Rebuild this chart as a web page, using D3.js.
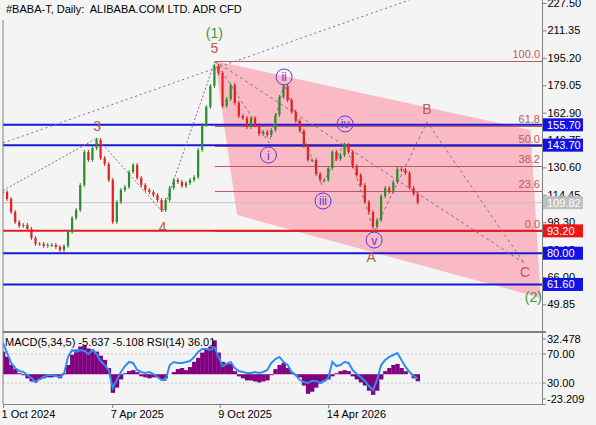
<!DOCTYPE html>
<html><head><meta charset="utf-8">
<script src="https://cdn.jsdelivr.net/npm/d3@7"></script>
<style>
body{margin:0;background:#f4f4f4;}
svg{display:block;font-family:"Liberation Sans",Arial,sans-serif;}
</style>
</head><body>
<svg id="c" width="596" height="425"></svg>
<script>
// ---------------- DATA ----------------
const title = "#BABA-T, Daily:  ALIBABA.COM LTD. ADR CFD";
const firstDate = "2024-10-01";
const lastAxisDate = "2027-04-17";
const stepDays = 7;
const closes = [116.1,112.0,104.3,98.4,96.1,96.7,94.3,89.0,85.5,85.5,84.3,84.9,84.9,83.7,81.9,84.3,92.5,100.8,105.5,120.2,
  139.7,135.0,142.0,146.8,136.1,132.6,123.2,98.4,110.2,117.3,119.1,127.9,132.0,124.4,120.2,117.3,116.1,114.3,111.4,105.5,
  111.4,118.5,123.2,122.0,119.6,121.4,123.2,124.9,140.9,155.6,166.2,178.6,190.4,186.2,166.8,170.9,179.2,168.6,160.9,159.7,
  154.4,159.7,155.6,150.3,151.5,149.7,152.6,161.5,172.1,178.6,170.3,163.3,158.0,152.1,143.2,135.0,135.0,126.7,123.2,123.2,
  130.2,139.7,135.6,137.9,143.8,139.7,131.4,126.1,120.2,110.2,104.3,95.5,99.6,113.7,118.5,116.1,122.0,129.7,129.1,127.3,
  118.5,114.9,109.82];
const macdValues = [18.3,14.1,7.5,4.2,0.8,-0.8,-3.3,-5.8,-6.6,-4.2,-3.3,-2.5,-2.5,-1.7,-3.3,0.8,7.5,15.8,19.9,22.4,
  23.3,20.8,19.9,18.3,15.0,11.6,5.0,-15.0,-10.8,-4.2,0.8,2.5,3.3,1.7,-1.7,-2.5,-3.3,-2.5,-2.5,-4.2,
  -3.3,0.0,1.7,4.2,5.0,3.3,5.8,10.0,13.3,17.5,19.9,22.4,27.4,17.5,10.0,9.1,8.3,2.5,-1.7,-3.3,
  -5.0,-5.0,-5.8,-6.6,-5.8,-5.0,-0.8,4.2,7.5,9.1,5.0,1.7,-0.8,-2.5,-9.1,-15.8,-14.1,-10.8,-7.5,-5.8,
  -4.2,-1.7,0.8,2.5,3.3,2.5,-1.7,-4.2,-6.6,-9.1,-13.3,-16.6,-13.3,-4.2,2.5,5.0,7.5,8.3,5.0,2.5,
  0.0,-3.3,-5.637];
const rsiValues = [85.2,71.4,57.6,50.7,46.6,45.2,41.0,36.9,31.4,35.5,38.3,41.0,41.0,39.7,38.3,42.4,65.9,75.5,72.8,75.5,
  74.1,70.0,75.5,70.0,60.3,54.8,47.9,23.1,34.1,45.2,53.4,59.0,57.6,47.9,45.2,43.8,45.2,42.4,38.3,34.1,
  34.1,54.8,59.0,57.6,57.6,59.0,60.3,65.9,72.8,76.9,76.9,75.5,79.7,65.9,53.4,56.2,59.0,50.7,46.6,45.2,
  43.8,43.8,45.2,43.8,45.2,47.9,57.6,63.1,65.9,59.0,54.8,45.2,41.0,34.1,31.4,30.0,32.8,32.8,30.0,32.8,
  36.9,59.0,53.4,54.8,59.0,57.6,47.9,42.4,38.3,32.8,25.9,20.3,34.1,54.8,61.7,65.9,68.6,71.4,61.7,52.1,
  45.2,39.7,36.01];
const priceTicks = [227.50,211.35,195.20,179.05,162.90,146.75,130.60,114.45,98.30,82.15,66.00,49.85];
const dateTicks = ["2024-10-01","2025-04-07","2025-10-09","2026-04-14"];
const levelValues = [155.70,143.70,93.20,80.00,61.60];
const levelKinds  = ["resist","resist","pivot","support","support"];
const lastPrice = 109.82;
const fibAnchorDate = "2025-10-01";
const fibLow = 93.2, fibHigh = 193.3;
const fibLevels = [0,23.6,38.2,50.0,61.8,100.0];
const macdLabel = "MACD(5,34,5) -5.637 -5.108 RSI(14) 36.01";
const macdMax = 32.478, macdMin = -23.209;
const rsiLevels = [70,30];
// Channel (date, price)
const channelDates  = ["2025-10-01","2027-03-28","2027-04-15","2025-11-08"];
const channelPrices = [193.3,152.6,53.6,102.5];
// Wave paths
const impulseDates  = ["2024-10-01","2025-03-12","2025-07-03","2025-10-01"];
const impulsePrices = [117.0,147.9,104.3,193.3];
const subDates  = ["2025-10-01","2026-01-02","2026-01-28","2026-04-03","2026-05-13","2026-07-02"];
const subPrices = [193.3,145.0,179.8,120.2,145.6,93.1];
const corrDates  = ["2026-07-02","2026-10-01","2027-03-17"];
const corrPrices = [93.1,157.4,74.3];
const trendDates = ["2025-10-01","2027-03-17"];
const trendPrices = [193.3,74.3];
const purpleDates = ["2024-10-01","2026-09-01"];
const purplePrices = [145.0,229.3];
// Labels
const waveLabels = ["(1)","5","3","4","A","B","C","(2)"];
const waveLabelKinds = ["major","minor","minor","minor","minor","minor","minor","major"];
const waveLabelDates = ["2025-09-30","2025-09-30","2025-03-12","2025-07-03","2026-06-27","2026-10-01","2027-03-19","2027-04-02"];
const waveLabelPrices = [209.8,201.0,155.0,95.5,77.8,165.0,69.0,54.2];
const circLabels = ["i","ii","iii","iv","v"];
const circDates = ["2026-01-01","2026-01-28","2026-04-05","2026-05-13","2026-07-02"];
const circPrices = [137.9,183.9,110.8,156.2,87.8];

// ---------------- DRAW ----------------
const parse = d3.timeParse("%Y-%m-%d");
const svg = d3.select("#c");
const W = 596;
const left = 3, right = 542, mainTop = 0, mainBottom = 331, subTop = 333, subBottom = 404;

const x = d3.scaleTime().domain([parse(firstDate), parse(lastAxisDate)]).range([left, right]);
const y = d3.scaleLinear().domain([49.85, 227.5]).range([304.4, 3]);
const yM = d3.scaleLinear().domain([macdMin, macdMax]).range([403, 334]);
const yR = d3.scaleLinear().domain([0, 100]).range([404.75, 332.25]);

const start = parse(firstDate);
const dates = closes.map((c, i) => d3.timeDay.offset(start, i * stepDays));
const step = x(dates[1]) - x(dates[0]);

svg.append("rect").attr("width", W).attr("height", 425).attr("fill", "#f4f4f4");

const defs = svg.append("defs");
defs.append("clipPath").attr("id", "mainClip").append("rect")
  .attr("x", left).attr("y", mainTop).attr("width", right - left).attr("height", mainBottom - mainTop);
defs.append("clipPath").attr("id", "subClip").append("rect")
  .attr("x", left).attr("y", subTop).attr("width", right - left).attr("height", subBottom - subTop);

const main = svg.append("g").attr("clip-path", "url(#mainClip)");

// pink channel
main.append("path")
  .attr("d", d3.line()(channelDates.map((d, i) => [x(parse(d)), y(channelPrices[i])])) + "Z")
  .attr("fill", "#f9b9c5");

// last price grey line
main.append("line").attr("x1", left).attr("x2", right)
  .attr("y1", y(lastPrice)).attr("y2", y(lastPrice))
  .attr("stroke", "#c4c4c4").attr("stroke-width", 1);

// fib lines
const fibColor = "#bf5a5a";
fibLevels.forEach(p => {
  const v = fibLow + (fibHigh - fibLow) * p / 100;
  main.append("line").attr("x1", x(parse(fibAnchorDate))).attr("x2", right)
    .attr("y1", Math.round(y(v)) + 0.5).attr("y2", Math.round(y(v)) + 0.5)
    .attr("stroke", fibColor).attr("stroke-width", 1);
  main.append("text").attr("x", right - 2).attr("y", y(v) - 3)
    .attr("text-anchor", "end").attr("font-size", 11).attr("fill", fibColor)
    .text(p.toFixed(1));
});

// horizontal levels
const levelColor = {resist: "#1a1ad6", support: "#1a1ad6", pivot: "#e01c1c"};
levelValues.forEach((v, i) => {
  main.append("line").attr("x1", left).attr("x2", right)
    .attr("y1", y(v)).attr("y2", y(v))
    .attr("stroke", levelColor[levelKinds[i]]).attr("stroke-width", 2);
});

// dashed wave lines
const lineGen = d3.line();
function dashed(ds, ps, color, dash) {
  main.append("path")
    .attr("d", lineGen(ds.map((d, i) => [x(parse(d)), y(ps[i])])))
    .attr("fill", "none").attr("stroke", color).attr("stroke-width", 1)
    .attr("stroke-dasharray", dash);
}
dashed(purpleDates, purplePrices, "#7a64c8", "2,3");
dashed(impulseDates, impulsePrices, "#8a7070", "2,2");
dashed(subDates, subPrices, "#7a7a7a", "3,3");
dashed(corrDates, corrPrices, "#7a7a7a", "3,3");
dashed(trendDates, trendPrices, "#7a7a7a", "3,3");

// candles
const bw = 2.2;
closes.forEach((c, i) => {
  const o = i > 0 ? closes[i - 1] : c;
  const up = c >= o;
  const col = up ? "#2e8b2e" : "#e62020";
  const cx = x(dates[i]);
  const yTop = y(Math.max(o, c)), yBot = y(Math.min(o, c));
  main.append("line").attr("x1", cx).attr("x2", cx)
    .attr("y1", yTop - 2).attr("y2", yBot + 2)
    .attr("stroke", col).attr("stroke-width", 1);
  main.append("rect").attr("x", cx - bw / 2).attr("y", yTop)
    .attr("width", bw).attr("height", Math.max(1, yBot - yTop))
    .attr("fill", col);
});

// wave labels
const waveColor = {major: "#3f9a3f", minor: "#b85a4e"};
waveLabels.forEach((t, i) => {
  main.append("text").attr("x", x(parse(waveLabelDates[i]))).attr("y", y(waveLabelPrices[i]))
    .attr("text-anchor", "middle").attr("dominant-baseline", "central")
    .attr("font-size", 14).attr("fill", waveColor[waveLabelKinds[i]]).text(t);
});
circLabels.forEach((t, i) => {
  const cx = x(parse(circDates[i])), cy = y(circPrices[i]);
  main.append("circle").attr("cx", cx).attr("cy", cy).attr("r", 8)
    .attr("fill", "none").attr("stroke", "#5a3ad8").attr("stroke-width", 1);
  main.append("text").attr("x", cx).attr("y", cy + 0.5)
    .attr("text-anchor", "middle").attr("dominant-baseline", "central")
    .attr("font-size", 12).attr("fill", "#5a3ad8").text(t);
});

// title
svg.append("text").attr("x", 6).attr("y", 13).attr("font-size", 11).attr("fill", "#000")
  .style("white-space", "pre").attr("xml:space", "preserve").text(title);

// ---------------- sub panel ----------------
const sub = svg.append("g").attr("clip-path", "url(#subClip)");
rsiLevels.forEach(l => {
  sub.append("line").attr("x1", left).attr("x2", right).attr("y1", yR(l)).attr("y2", yR(l))
    .attr("stroke", "#c8c8c8").attr("stroke-dasharray", "2,2");
});
macdValues.forEach((v, i) => {
  const cx = x(dates[i]);
  sub.append("rect").attr("x", cx - step / 2).attr("width", step + 0.3)
    .attr("y", Math.min(yM(v), yM(0))).attr("height", Math.abs(yM(v) - yM(0)))
    .attr("fill", "#800080");
});
sub.append("path")
  .attr("d", d3.line().x((d, i) => x(dates[i])).y(d => yR(d))(rsiValues))
  .attr("fill", "none").attr("stroke", "#2a8fef").attr("stroke-width", 2);
svg.append("text").attr("x", 5).attr("y", 346).attr("font-size", 11).attr("fill", "#000").text(macdLabel);

// ---------------- frames & axes ----------------
svg.append("line").attr("x1", left).attr("x2", left).attr("y1", 20).attr("y2", subBottom).attr("stroke", "#808080");
svg.append("line").attr("x1", right + 0.5).attr("x2", right + 0.5).attr("y1", 0).attr("y2", subBottom).attr("stroke", "#808080");
svg.append("line").attr("x1", left).attr("x2", right + 4).attr("y1", 332).attr("y2", 332).attr("stroke", "#808080").attr("stroke-width", 2);
svg.append("line").attr("x1", left).attr("x2", right + 4).attr("y1", subBottom + 0.5).attr("y2", subBottom + 0.5).attr("stroke", "#808080");

const yAxis = svg.append("g").attr("transform", `translate(${right + 0.5},0)`)
  .call(d3.axisRight(y).tickValues(priceTicks).tickFormat(d3.format(".2f")).tickSize(4).tickPadding(1));
yAxis.select(".domain").remove();
yAxis.selectAll("line").attr("stroke", "#808080");
yAxis.selectAll("text").attr("font-size", 11).attr("fill", "#000").attr("font-family", "Liberation Sans, Arial, sans-serif");

// sub-axis labels
const subTicks = [[yM(macdMax) + 5, "32.478"], [yR(70), "70.00"], [yR(30), "30.00"], [yM(macdMin) - 4, "-23.209"]];
subTicks.forEach(([yy, t]) => {
  svg.append("line").attr("x1", right).attr("x2", right + 4).attr("y1", yy).attr("y2", yy).attr("stroke", "#808080");
  svg.append("text").attr("x", right + 5).attr("y", yy).attr("dy", "0.32em").attr("font-size", 11).attr("fill", "#000").text(t);
});

const xAxis = svg.append("g").attr("transform", `translate(0,${subBottom})`)
  .call(d3.axisBottom(x).tickValues(dateTicks.map(parse)).tickFormat(d3.timeFormat("%-d %b %Y")).tickSize(4).tickPadding(2));
xAxis.select(".domain").remove();
xAxis.selectAll("line").attr("stroke", "#808080");
xAxis.selectAll("text").attr("text-anchor", "start").attr("dx", -2).attr("font-size", 11).attr("fill", "#000")
  .attr("font-family", "Liberation Sans, Arial, sans-serif");

// price boxes
const boxColor = {resist: "#1212e8", support: "#1212e8", pivot: "#f01414", last: "#c0c0c0"};
const boxes = levelValues.map((v, i) => [v, levelKinds[i]]).concat([[lastPrice, "last"]]);
boxes.forEach(([v, k]) => {
  const yy = y(v);
  svg.append("rect").attr("x", right + 1).attr("y", yy - 6.5).attr("width", 40).attr("height", 13).attr("fill", boxColor[k]);
  svg.append("text").attr("x", right + 5).attr("y", yy).attr("dy", "0.35em").attr("font-size", 11).attr("fill", "#fff").text(v.toFixed(2));
});
</script>
</body></html>
